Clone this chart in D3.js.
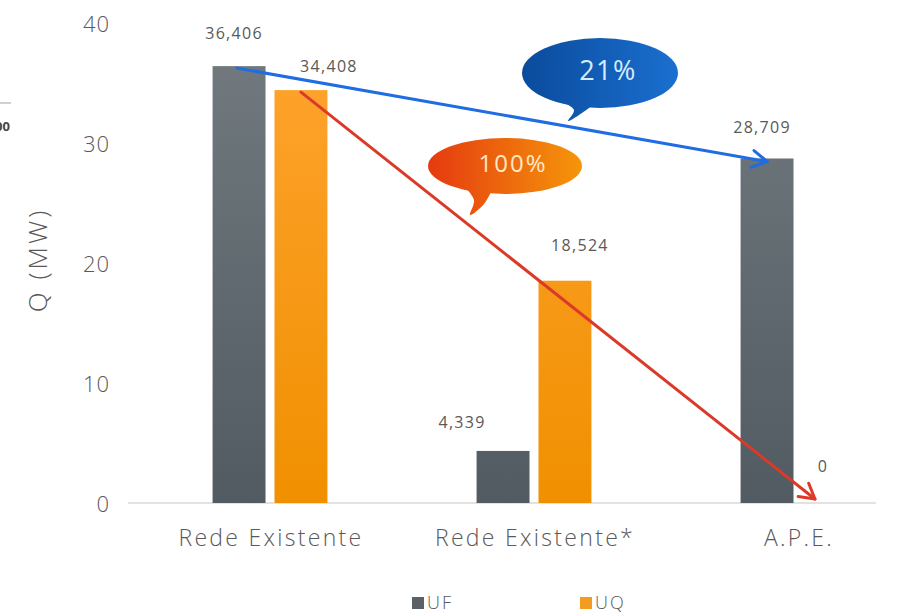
<!DOCTYPE html>
<html>
<head>
<meta charset="utf-8">
<script src="https://cdn.jsdelivr.net/npm/d3@7"></script>
<style>
  html, body { margin: 0; padding: 0; background: #fff; }
  svg { display: block; }
  text { font-family: "Open Sans", "DejaVu Sans", sans-serif; fill: #595959; }
</style>
</head>
<body>
<svg id="chart" width="916" height="613"></svg>
<script>
// Heat demand per scenario (MW)
const categories = ["Rede Existente", "Rede Existente*", "A.P.E."];
const seriesNames = ["UF", "UQ"];
const ufValues = [36.406, 4.339, 28.709];
const uqValues = [34.408, 18.524, 0];
const valueLabels = [["36,406", "34,408"], ["4,339", "18,524"], ["28,709", "0"]];
const yTicks = [0, 10, 20, 30, 40];
const reductionLabels = ["21%", "100%"];

// label nudges relative to each bar top centre: [dx, dy]
const labelNudge = [[[-5, -31], [28, -22]], [[-41, -27], [15, -34]], [[-5, -30], [-6, -35]]];

const svg = d3.select("#chart");

const y = d3.scaleLinear().domain([0, 40]).range([503, 23]);
const x0 = d3.scaleBand().domain(categories).range([138, 930]).paddingInner(0.565).paddingOuter(0.2825);
const x1 = d3.scaleBand().domain(seriesNames).range([0, x0.bandwidth()]).paddingInner(0.145);

const defs = svg.append("defs");
function vGrad(id, top, bottom) {
  const g = defs.append("linearGradient").attr("id", id)
    .attr("gradientUnits", "userSpaceOnUse")
    .attr("x1", 0).attr("x2", 0).attr("y1", y(40)).attr("y2", y(0));
  g.append("stop").attr("offset", "0%").attr("stop-color", top);
  g.append("stop").attr("offset", "100%").attr("stop-color", bottom);
}
vGrad("gUF", "#737b80", "#515b61");
vGrad("gUQ", "#ffa431", "#f09000");

function hGrad(id, xa, xb, c1, c2) {
  const g = defs.append("linearGradient").attr("id", id)
    .attr("gradientUnits", "userSpaceOnUse")
    .attr("x1", xa).attr("x2", xb).attr("y1", 0).attr("y2", 0);
  g.append("stop").attr("offset", "0%").attr("stop-color", c1);
  g.append("stop").attr("offset", "100%").attr("stop-color", c2);
}
hGrad("gBlue", 522, 678, "#0a4b9c", "#1a6fcf");
hGrad("gOrange", 428, 582, "#e53a10", "#f5960a");

// fragment of a neighbouring panel at the left edge
svg.append("line").attr("x1", 0).attr("x2", 11).attr("y1", 103).attr("y2", 103)
  .attr("stroke", "#d0d0d0").attr("stroke-width", 2);
svg.append("text").attr("x", 10).attr("y", 128).attr("text-anchor", "end")
  .attr("dominant-baseline", "middle").style("font-size", "13px").style("font-weight", "bold")
  .style("fill", "#444").text("100");

// y tick labels
svg.append("g").selectAll("text").data(yTicks).join("text")
  .attr("x", 110).attr("y", d => y(d) + 3)
  .attr("text-anchor", "end").attr("dominant-baseline", "middle")
  .style("font-size", "22px").style("font-weight", 300).style("letter-spacing", "1px")
  .text(d => d);

// y axis title
svg.append("text")
  .attr("transform", "translate(40,260) rotate(-90)")
  .attr("text-anchor", "middle").attr("dominant-baseline", "middle")
  .style("font-size", "26px").style("font-weight", 300).style("letter-spacing", "3px")
  .text("Q (MW)");

// baseline
svg.append("line").attr("x1", 128).attr("x2", 876).attr("y1", y(0)).attr("y2", y(0))
  .attr("stroke", "#d9d9d9").attr("stroke-width", 1.5);

// bars
const rows = categories.map((c, i) => ({ cat: c, i, vals: [ufValues[i], uqValues[i]] }));
const groups = svg.append("g").selectAll("g").data(rows).join("g")
  .attr("transform", d => `translate(${x0(d.cat)},0)`);

groups.selectAll("rect").data(d => d.vals.map((v, j) => ({ v, j, s: seriesNames[j] })))
  .join("rect")
  .attr("x", d => x1(d.s)).attr("width", x1.bandwidth())
  .attr("y", d => y(d.v)).attr("height", d => y(0) - y(d.v))
  .attr("fill", d => d.j === 0 ? "url(#gUF)" : "url(#gUQ)");

// value labels
groups.selectAll("text").data(d => d.vals.map((v, j) => ({ v, j, s: seriesNames[j], i: d.i })))
  .join("text")
  .attr("x", d => x1(d.s) + x1.bandwidth() / 2 + labelNudge[d.i][d.j][0])
  .attr("y", d => y(d.v) + labelNudge[d.i][d.j][1])
  .attr("text-anchor", "middle").attr("dominant-baseline", "middle")
  .style("font-size", "16px").style("letter-spacing", "1.3px")
  .text(d => valueLabels[d.i][d.j]);

// category labels
svg.append("g").selectAll("text").data(categories).join("text")
  .attr("x", d => x0(d) + x0.bandwidth() / 2 + 1).attr("y", 540)
  .attr("text-anchor", "middle").attr("dominant-baseline", "middle")
  .style("font-size", "23px").style("font-weight", 300).style("letter-spacing", "2.3px")
  .text(d => d);

// trend arrows between bar tops
function barTop(i, j) {
  const v = j === 0 ? ufValues[i] : uqValues[i];
  return [x0(categories[i]) + x1(seriesNames[j]) + x1.bandwidth() / 2, y(v)];
}
function arrow(p0, p1, color) {
  const a = Math.atan2(p1[1] - p0[1], p1[0] - p0[0]);
  const len = 17, spread = Math.PI / 6;
  const w1 = [p1[0] - len * Math.cos(a - spread), p1[1] - len * Math.sin(a - spread)];
  const w2 = [p1[0] - len * Math.cos(a + spread), p1[1] - len * Math.sin(a + spread)];
  const g = svg.append("g").attr("fill", "none").attr("stroke", color)
    .attr("stroke-width", 3).attr("stroke-linecap", "round").attr("stroke-linejoin", "round");
  g.append("path").attr("d", d3.line()([p0, p1]));
  g.append("path").attr("d", d3.line()([w1, p1, w2]));
}
const blueStart = barTop(0, 0), blueEnd = barTop(2, 0);
arrow([blueStart[0] - 2, blueStart[1] + 2], [blueEnd[0], blueEnd[1] + 3], "#1f6ce3");
const redStart = barTop(0, 1), redEnd = barTop(2, 1);
arrow([redStart[0], redStart[1] + 2], [redEnd[0] - 14, redEnd[1] - 4], "#dc3a28");

// speech-bubble callouts
function bubble(cx, cy, rx, ry, tail, fill, label, fs, ls, tc) {
  const g = svg.append("g");
  g.append("path").attr("d", d3.line().curve(d3.curveCatmullRom)(tail)).attr("fill", fill);
  g.append("ellipse").attr("cx", cx).attr("cy", cy).attr("rx", rx).attr("ry", ry).attr("fill", fill);
  g.append("text").attr("x", cx + 8).attr("y", cy).attr("text-anchor", "middle")
    .attr("dominant-baseline", "middle").style("font-size", fs).style("letter-spacing", ls)
    .style("fill", tc).text(label);
}
bubble(600, 73, 78, 35, [[558, 100], [574, 110], [568, 121], [582, 113], [594, 104]],
  "url(#gBlue)", reductionLabels[0], "27px", "1.5px", "#d6ebff");
bubble(505, 166, 77, 28, [[462, 184], [474, 200], [470, 215], [484, 204], [492, 190]],
  "url(#gOrange)", reductionLabels[1], "24px", "2px", "#ffe9c8");

// legend
const legend = [["UF", "#5a6268", 412], ["UQ", "#f39c1f", 580]];
legend.forEach(([name, color, lx]) => {
  svg.append("rect").attr("x", lx).attr("y", 597).attr("width", 12).attr("height", 12).attr("fill", color);
  svg.append("text").attr("x", lx + 15).attr("y", 604).attr("dominant-baseline", "middle")
    .style("font-size", "18px").style("font-weight", 300).style("letter-spacing", "2px").text(name);
});
</script>
</body>
</html>
